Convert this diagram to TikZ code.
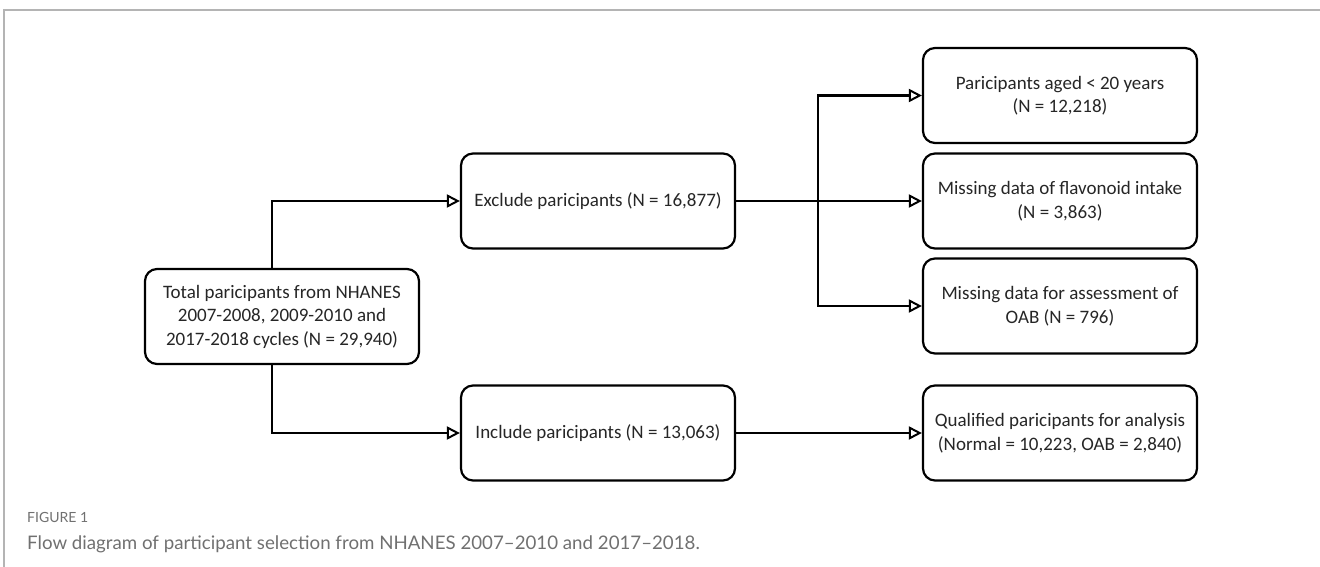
\documentclass[tikz,border=0pt]{standalone}
\usepackage{fontspec}
\setmainfont{Carlito}
\newfontfamily\capfont{Lato}
\usetikzlibrary{arrows.meta}
\definecolor{framegray}{HTML}{B4B4B4}
\definecolor{capgray}{HTML}{707070}
\begin{document}
\begin{tikzpicture}[x=1pt,y=-1pt,
  flowbox/.style={draw=black, line width=2.2pt, rounded corners=12pt, fill=white,
    minimum width=274pt, minimum height=95pt, align=center, inner sep=2pt,
    font=\fontsize{19}{23.5}\selectfont, text=black!85},
  arr/.style={line width=2.2pt, -{Triangle[open, length=13pt, width=13pt, line width=2pt]}}]
\useasboundingbox (0,0) rectangle (1320,567);
% frame
\draw[framegray, line width=1.5pt] (4,567) -- (4,10) -- (1320,10);
% boxes
\node[flowbox] (tot) at (282,316.5) {Total paricipants from NHANES\\2007-2008, 2009-2010 and\\2017-2018 cycles (N = 29,940)};
\node[flowbox] (exc) at (598,201) {Exclude paricipants (N = 16,877)};
\node[flowbox] (inc) at (598,433) {Include paricipants (N = 13,063)};
\node[flowbox] (r1) at (1060,95.5) {Paricipants aged < 20 years\\(N = 12,218)};
\node[flowbox] (r2) at (1060,201) {Missing data of flavonoid intake\\(N = 3,863)};
\node[flowbox] (r3) at (1060,306) {Missing data for assessment of\\OAB (N = 796)};
\node[flowbox] (q) at (1060,433) {Qualified paricipants for analysis\\(Normal = 10,223, OAB = 2,840)};
% connectors
\draw[arr] ([xshift=-10pt]tot.north) |- (exc.west);
\draw[arr] ([xshift=-10pt]tot.south) |- (inc.west);
\draw[arr] (exc.east) -- (r2.west);
\coordinate (j) at (818,201);
\draw[arr] (j) |- (r1.west);
\draw[arr] (j) |- (r3.west);
\draw[arr] (inc.east) -- (q.west);
% caption
\node[anchor=base west, inner sep=0pt, text=capgray, font=\capfont\fontsize{14}{16}\selectfont] (figlab) at (27,522) {FIGURE 1};
\node[anchor=base west, inner sep=0pt, text=capgray, font=\capfont\fontsize{18.7}{22}\selectfont] (cap) at (27,549) {Flow diagram of participant selection from NHANES 2007–2010 and 2017–2018.};
\end{tikzpicture}
\end{document}
